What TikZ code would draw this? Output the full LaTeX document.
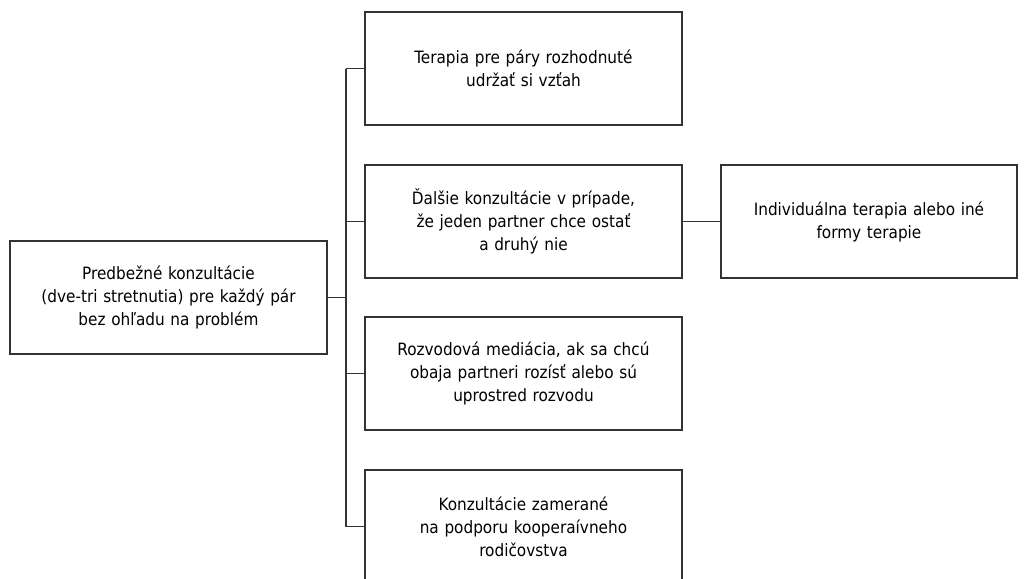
\documentclass[tikz,border=0pt]{standalone}
\usepackage{fontspec}
\setmainfont{DejaVu Sans Condensed}
\usetikzlibrary{positioning}

\tikzset{
  box/.style={draw=black!80, line width=1.5pt, minimum width=317pt, minimum height=113pt,
    text width=300pt, align=center, inner sep=0pt, font=\fontsize{17}{23}\selectfont},
  link/.style={draw=black!80, line width=1.5pt}
}

\begin{document}
\begin{tikzpicture}[x=1pt, y=-1pt]
\useasboundingbox (0,0) rectangle (1027,578);

\node[box] (root) at (168.5,297.5) {Predbežné konzultácie\\(dve-tri stretnutia) pre každý pár\\bez ohľadu na problém};

\node[box] (keep) at (523.5,68.5) {Terapia pre páry rozhodnuté\\udržať si vzťah};
\node[box] (more) at (523.5,221.5) {Ďalšie konzultácie v prípade,\\že jeden partner chce ostať\\a druhý nie};
\node[box] (medi) at (523.5,373.5) {Rozvodová mediácia, ak sa chcú\\obaja partneri rozísť alebo sú\\uprostred rozvodu};
\node[box] (coop) at (523.5,526.5) {Konzultácie zamerané\\na podporu kooperaívneho\\rodičovstva};

\node[box, minimum width=296pt, text width=280pt] (indiv) at (869,221.5) {Individuálna terapia alebo iné\\formy terapie};

% trunk
\coordinate (trunk) at (346,297.5);
\draw[link] (root.east) -- (trunk);
\draw[link] (trunk |- keep.west) -- (trunk |- coop.west);
\foreach \n in {keep, more, medi, coop}
  \draw[link] (trunk |- \n.west) -- (\n.west);

\draw[link] (more.east) -- (indiv.west);
\end{tikzpicture}
\end{document}
